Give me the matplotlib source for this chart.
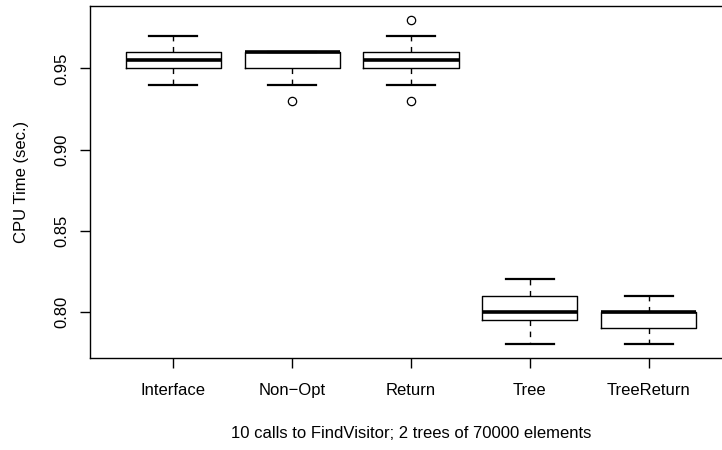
import matplotlib
matplotlib.use('Agg')
import matplotlib.pyplot as plt

plt.rcParams['font.family'] = ['Liberation Sans', 'DejaVu Sans']

# 数据
labels = ['Interface', 'Non\u2212Opt', 'Return', 'Tree', 'TreeReturn']
whislo = [0.94, 0.94, 0.94, 0.78, 0.78]
q1 = [0.95, 0.95, 0.95, 0.795, 0.79]
med = [0.955, 0.96, 0.955, 0.80, 0.80]
q3 = [0.96, 0.96, 0.96, 0.81, 0.80]
whishi = [0.97, 0.96, 0.97, 0.82, 0.81]
fliers = [[], [0.93], [0.98, 0.93], [], []]

yticks = [0.80, 0.85, 0.90, 0.95]

stats = []
for i in range(len(labels)):
    stats.append(dict(label=labels[i], whislo=whislo[i], q1=q1[i], med=med[i],
                      q3=q3[i], whishi=whishi[i], fliers=fliers[i]))

fig = plt.figure(figsize=(7.22, 4.5), dpi=100)
ax = fig.add_axes([90 / 722, 92 / 450, 642 / 722, 352 / 450])

ax.bxp(stats, positions=range(1, 6), widths=0.8, patch_artist=False,
       boxprops=dict(color='black', linewidth=1),
       medianprops=dict(color='black', linewidth=2.6, solid_capstyle='butt'),
       whiskerprops=dict(color='black', linewidth=1, linestyle=(0, (4, 4))),
       capprops=dict(color='black', linewidth=1.6),
       capwidths=0.4,
       flierprops=dict(marker='o', markerfacecolor='none', markeredgecolor='black',
                       markersize=6, markeredgewidth=0.9))

ax.set_xlim(0.3, 5.7)
ax.set_ylim(0.7716, 0.9884)
ax.set_yticks(yticks)
ax.set_yticklabels(['%.2f' % v for v in yticks], rotation=90, va='center')
ax.tick_params(axis='both', labelsize=12, length=7, width=1, color='black')
ax.tick_params(axis='x', pad=11)
ax.tick_params(axis='y', pad=8)

ax.set_xlabel('10 calls to FindVisitor; 2 trees of 70000 elements', fontsize=12, labelpad=20)
ax.set_ylabel('CPU Time (sec.)', fontsize=12, labelpad=18)

for s in ax.spines.values():
    s.set_linewidth(1)

fig.savefig('out.png', dpi=100)
